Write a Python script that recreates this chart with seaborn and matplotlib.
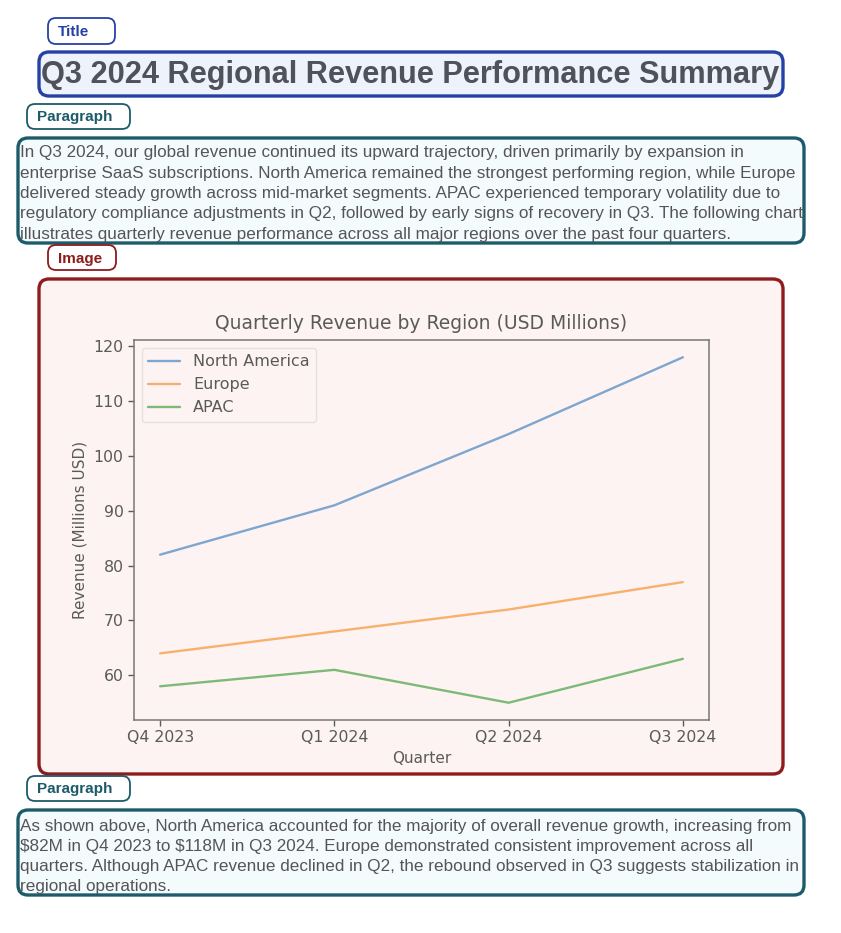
import matplotlib
matplotlib.use("Agg")
import matplotlib.pyplot as plt
from matplotlib.patches import FancyBboxPatch
import pandas as pd
import seaborn as sns

# chart data
quarters = ["Q4 2023", "Q1 2024", "Q2 2024", "Q3 2024"]
north_america = [82, 91, 104, 118]
europe = [64, 68, 72, 77]
apac = [58, 61, 55, 63]
regions = ["North America", "Europe", "APAC"]

title_text = "Q3 2024 Regional Revenue Performance Summary"
para1_lines = [
    "In Q3 2024, our global revenue continued its upward trajectory, driven primarily by expansion in",
    "enterprise SaaS subscriptions. North America remained the strongest performing region, while Europe",
    "delivered steady growth across mid-market segments. APAC experienced temporary volatility due to",
    "regulatory compliance adjustments in Q2, followed by early signs of recovery in Q3. The following chart",
    "illustrates quarterly revenue performance across all major regions over the past four quarters.",
]
para2_lines = [
    "As shown above, North America accounted for the majority of overall revenue growth, increasing from",
    "$82M in Q4 2023 to $118M in Q3 2024. Europe demonstrated consistent improvement across all",
    "quarters. Although APAC revenue declined in Q2, the rebound observed in Q3 suggests stabilization in",
    "regional operations.",
]

W, H = 841, 933
BLUE = "#2641a6"
TEAL = "#1d5b6b"
RED = "#8e1c1c"
TEXT_GRAY = "#4f525a"
NARROW = ["Liberation Sans Narrow", "Liberation Sans", "DejaVu Sans"]

sns.set_style("white")
fig = plt.figure(figsize=(W / 100, H / 100), dpi=100)
fig.patch.set_facecolor("white")

# page canvas in pixel units
page = fig.add_axes([0, 0, 1, 1])
page.set_xlim(0, W)
page.set_ylim(H, 0)
page.axis("off")


def box(x0, y0, x1, y1, edge, face, lw, r=10):
    p = FancyBboxPatch((x0, y0), x1 - x0, y1 - y0,
                       boxstyle=f"round,pad=0,rounding_size={r}",
                       linewidth=lw, edgecolor=edge, facecolor=face, zorder=2)
    page.add_patch(p)


def tag(x0, y0, x1, y1, text, color):
    box(x0, y0, x1, y1, color, "white", 1.3, r=8)
    page.text(x0 + 10, (y0 + y1) / 2 + 1, text, color=color, fontsize=11,
              fontweight="bold", family=NARROW, va="center", ha="left", zorder=3)


def fit_text(x, y, s, width, size, **kw):
    t = page.text(x, y, s, fontsize=size, zorder=3, parse_math=False, **kw)
    r = fig.canvas.get_renderer()
    w = t.get_window_extent(renderer=r).width
    t.set_fontsize(size * width / w)
    return t


# title block
tag(48, 18, 115, 44, "Title", BLUE)
box(39, 52, 783, 96, BLUE, "#eef2fb", 2.4)
fit_text(41, 75, title_text, 740, 24, color=TEXT_GRAY, fontweight="bold",
         family=NARROW, va="center", ha="left")

# first paragraph
tag(27, 104, 130, 129, "Paragraph", TEAL)
box(18, 138, 804, 243, TEAL, "#f4fbfd", 2.4)
t = fit_text(20, 152, para1_lines[3], 781, 13, color="#555555",
             family=NARROW, va="center", ha="left")
psize = t.get_fontsize()
t.remove()
for i, line in enumerate(para1_lines):
    page.text(20, 153 + i * 20.3, line, fontsize=psize, color="#555555",
              family=NARROW, va="center", ha="left", zorder=3, parse_math=False)

# image block
tag(48, 245, 116, 270, "Image", RED)
box(39, 279, 783, 774, RED, "#fdf3f3", 2.4)

# second paragraph
tag(27, 776, 130, 801, "Paragraph", TEAL)
box(18, 810, 804, 895, TEAL, "#f4fbfd", 2.4)
for i, line in enumerate(para2_lines):
    page.text(20, 826 + i * 20.3, line, fontsize=psize, color="#555555",
              family=NARROW, va="center", ha="left", zorder=3, parse_math=False)

# chart inside the image block
ax = fig.add_axes([134 / W, 1 - 720 / H, (709 - 134) / W, (720 - 340) / H])
ax.set_zorder(5)
ax.set_facecolor("#fdf3f3")

df = pd.DataFrame({
    "Quarter": quarters * 3,
    "Revenue": north_america + europe + apac,
    "Region": [regions[0]] * 4 + [regions[1]] * 4 + [regions[2]] * 4,
})
palette = {"North America": "#7ea6cf", "Europe": "#f7b06e", "APAC": "#7dba78"}
sns.lineplot(data=df, x="Quarter", y="Revenue", hue="Region", palette=palette,
             linewidth=1.7, ax=ax)

chart_gray = "#5a5a5a"
ax.set_title("Quarterly Revenue by Region (USD Millions)", fontsize=13.5,
             color=chart_gray, pad=8)
ax.set_xlabel("Quarter", fontsize=11, color=chart_gray)
ax.set_ylabel("Revenue (Millions USD)", fontsize=11, color=chart_gray)
ax.tick_params(axis="both", labelsize=11.3, colors=chart_gray, length=4, width=1,
               left=True, bottom=True)
for s in ax.spines.values():
    s.set_color("#777777")
    s.set_linewidth(1.1)
leg = ax.legend(loc="upper left", fontsize=11.5, frameon=True)
leg.get_frame().set_facecolor("#fdf3f3")
leg.get_frame().set_edgecolor("#dddddd")
for txt in leg.get_texts():
    txt.set_color(chart_gray)

fig.savefig("out.png", dpi=100, facecolor="white")
